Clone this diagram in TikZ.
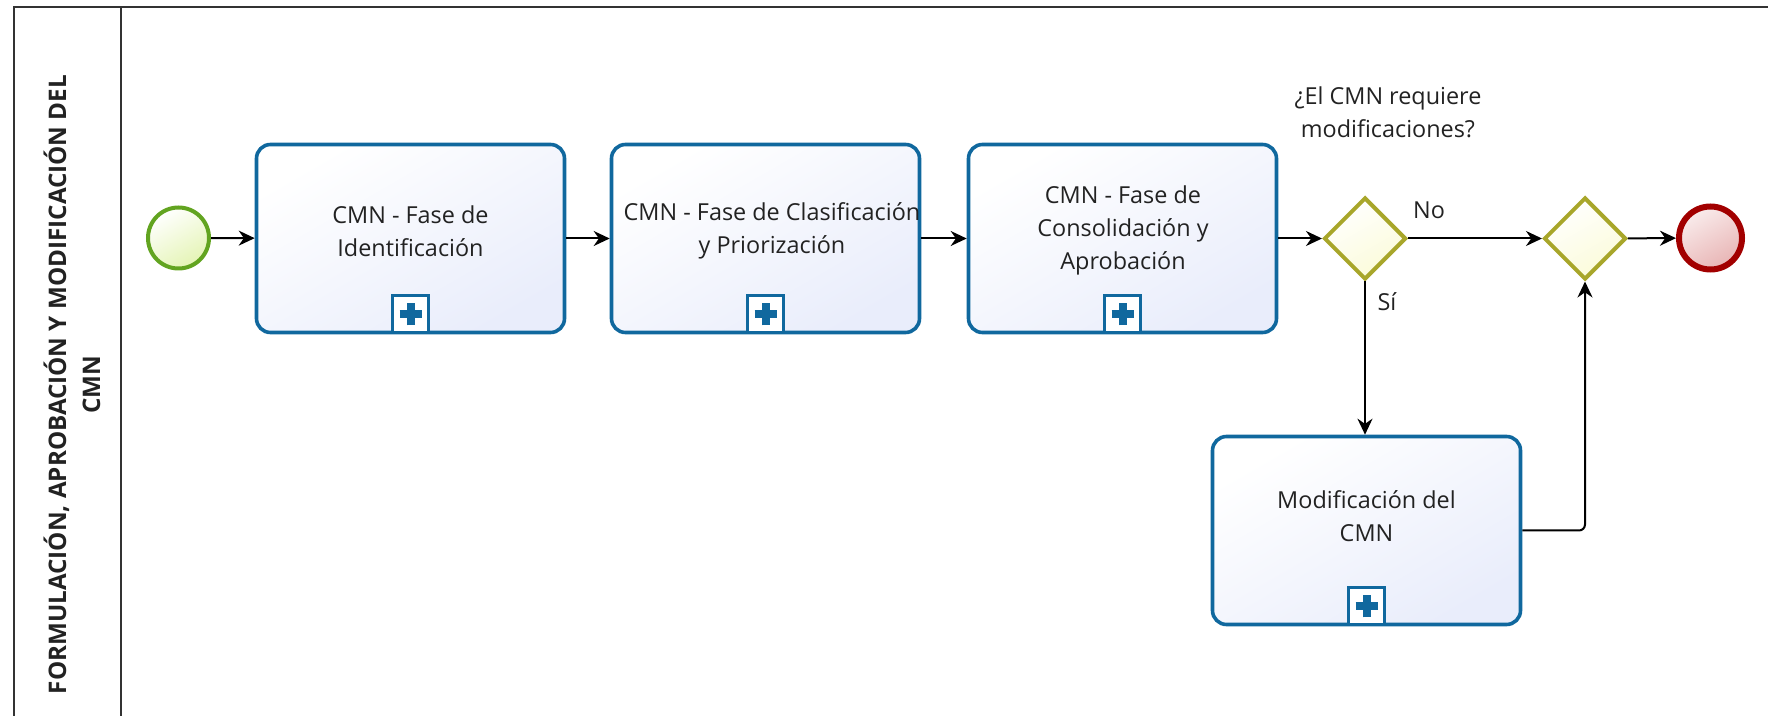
\documentclass[tikz,border=0pt]{standalone}
\usepackage{fontspec}
\setmainfont{Open Sans}
\usetikzlibrary{arrows.meta,shapes.geometric}

\definecolor{taskblue}{HTML}{10689E}
\definecolor{taskfill}{HTML}{E9EDFB}
\definecolor{startgreen}{HTML}{62A420}
\definecolor{startfill}{HTML}{E4F4B4}
\definecolor{endred}{HTML}{A20000}
\definecolor{endfill}{HTML}{E8B4B4}
\definecolor{gateolive}{HTML}{A8A62A}
\definecolor{gatefill}{HTML}{FBFBD8}
\definecolor{framegray}{HTML}{333333}
\definecolor{inkgray}{HTML}{222222}

\begin{document}
\begin{tikzpicture}[x=0.5pt,y=-0.5pt,
  every node/.style={text=inkgray},
  lbl/.style={font=\fontsize{11.7}{16.5}\selectfont, align=center, inner sep=0pt},
  taskbox/.style={draw=taskblue, line width=1.8pt, rounded corners=7pt,
    minimum width=154pt, minimum height=94pt, inner sep=0pt,
    top color=white, bottom color=taskfill, shading angle=30},
  marker/.style={draw=taskblue, line width=1.5pt, fill=white,
    minimum width=18pt, minimum height=18.5pt, inner sep=0pt, anchor=south},
  startev/.style={circle, draw=startgreen, line width=2pt, minimum size=30.5pt,
    inner sep=0pt, top color=white, bottom color=startfill, shading angle=30},
  endev/.style={circle, draw=endred, line width=3pt, minimum size=31.5pt,
    inner sep=0pt, top color=endfill!25, bottom color=endfill, shading angle=30},
  gateway/.style={diamond, aspect=1, draw=gateolive, line width=2pt,
    minimum width=41pt, minimum height=41pt, inner sep=0pt,
    top color=white, bottom color=gatefill, shading angle=30},
  flow/.style={draw=black, line width=1pt, -{Stealth[length=8pt,width=7.5pt]}},
  frame/.style={draw=framegray, line width=1pt}
]
\newcommand\subplus[1]{%
  \node[marker] (#1m) at (#1.south) {};
  \draw[taskblue, line width=4pt] ([xshift=-5.5pt]#1m.center) -- ([xshift=5.5pt]#1m.center);
  \draw[taskblue, line width=4pt] ([yshift=-5.5pt]#1m.center) -- ([yshift=5.5pt]#1m.center);
}

\useasboundingbox (0,0) rectangle (1768,716);

% pool frame and lane header
\draw[frame] (14,716) -- (14,7.5) -- (1768,7.5);
\draw[frame] (121,7.5) -- (121,716);
\node[rotate=90, font=\bfseries\fontsize{12.1}{17}\selectfont, align=center, inner sep=0pt]
  (lane) at (72,384.5) {FORMULACIÓN, APROBACIÓN Y MODIFICACIÓN DEL\\CMN};

% events and gateways
\node[startev] (start) at (178.5,238) {};
\node[gateway] (g1) at (1365,238.5) {};
\node[gateway] (g2) at (1585,238.5) {};
\node[endev] (end) at (1710.5,238) {};

% collapsed sub-processes
\node[taskbox] (t1) at (410.5,238.5) {};
\node[taskbox] (t2) at (765.5,238.5) {};
\node[taskbox] (t3) at (1122.5,238.5) {};
\node[taskbox] (t4) at (1366.5,530.5) {};
\subplus{t1}
\subplus{t2}
\subplus{t3}
\subplus{t4}

\node[lbl] (t1txt) at (410.5,231) {CMN - Fase de\\Identificación};
\node[lbl] (t2txt) at (772,231) {CMN - Fase de Clasificación\\y Priorización};
\node[lbl] (t3txt) at (1123,230) {CMN - Fase de\\Consolidación y\\Aprobación};
\node[lbl] (t4txt) at (1366.5,516) {Modificación del\\CMN};

% gateway texts
\node[lbl] (q1) at (1388,112) {¿El CMN requiere\\modificaciones?};
\node[lbl] (no) at (1429,210) {No};
\node[lbl] (si) at (1387,302) {Sí};

% sequence flows
\draw[flow] (start) -- (t1);
\draw[flow] (t1) -- (t2);
\draw[flow] (t2) -- (t3);
\draw[flow] (t3) -- (g1);
\draw[flow] (g1) -- (g2);
\draw[flow] (g2) -- (end);
\draw[flow] (g1.south) -- (g1.south |- t4.north);
\draw[flow, rounded corners=3pt] (t4.east) -| (g2.south);
\end{tikzpicture}
\end{document}
